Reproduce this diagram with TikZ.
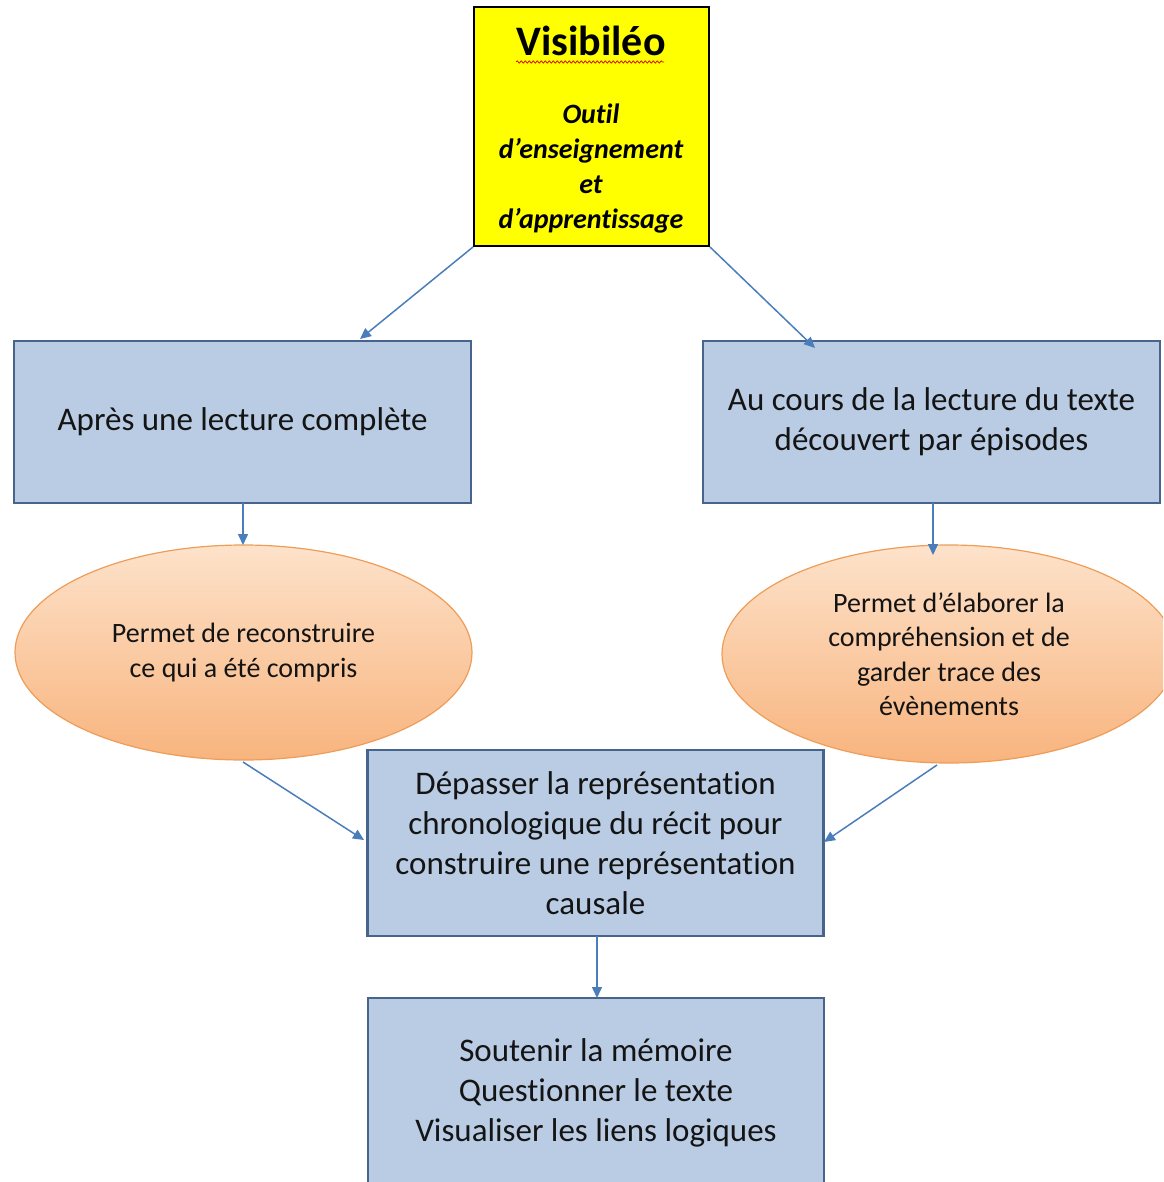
\documentclass[tikz,border=0pt]{standalone}
\usepackage{fontspec}
\setmainfont{Carlito}[Ligatures={NoCommon}]
\usetikzlibrary{arrows.meta,shapes.geometric,decorations.pathmorphing}
\definecolor{boxfill}{HTML}{B9CCE4}
\definecolor{boxline}{HTML}{46648C}
\definecolor{arrowcol}{HTML}{4A7EBB}
\definecolor{elltop}{HTML}{FDE2CA}
\definecolor{ellbot}{HTML}{F8B47E}
\definecolor{ellline}{HTML}{EE9D58}
\definecolor{txt}{HTML}{141414}
\definecolor{pureyellow}{HTML}{FFFF00}
\tikzset{
  bluebox/.style={draw=boxline, line width=2.5pt, fill=boxfill, align=center,
    text=txt, inner sep=0pt, font=\fontsize{33}{40}\selectfont},
  orangeell/.style={ellipse, draw=ellline, line width=1.2pt, top color=elltop,
    bottom color=ellbot, align=center, text=txt, inner sep=0pt,
    font=\fontsize{28}{34.5}\selectfont},
  yellowbox/.style={draw=black, line width=2pt, fill=pureyellow, inner sep=0pt},
  conn/.style={draw=arrowcol, line width=1.5pt,
    -{Triangle[length=11pt,width=10pt]}},
}
\begin{document}
\begin{tikzpicture}[x=1pt,y=-1pt]
\useasboundingbox (0,0) rectangle (1163,1182);
\clip (0,0) rectangle (1163,1182);
% top box
\node[yellowbox, minimum width=235pt, minimum height=239pt] (top) at (591.5,126.5) {};
\node[font=\fontsize{42}{44}\selectfont\bfseries, text=black, inner sep=0pt] (title) at (591,41) {Visibiléo};
\coordinate (sqa) at (516,62);
\coordinate (sqb) at (664,62);
\draw[red!85!black, line width=0.7pt, decorate, decoration={snake, amplitude=1.2pt, segment length=4pt}] (sqa) -- (sqb);
\node[font=\fontsize{28}{35}\selectfont\bfseries\itshape, text=black, align=center, inner sep=0pt] (sub) at (591,169)
  {Outil\\d’enseignement\\et\\d’apprentissage};
% second row
\node[bluebox, minimum width=457pt, minimum height=162pt] (left) at (242.5,422) {Après une lecture complète};
\node[bluebox, minimum width=457pt, minimum height=162pt] (right) at (931.5,422) {Au cours de la lecture du texte\\découvert par épisodes};
% ellipses
\node[orangeell, minimum width=457pt, minimum height=215pt] (lell) at (243.5,652.5) {Permet de reconstruire\\ce qui a été compris};
\node[orangeell, minimum width=454pt, minimum height=218pt] (rell) at (949,654) {Permet d’élaborer la\\compréhension et de\\garder trace des\\évènements};
% middle and bottom
\node[bluebox, minimum width=456pt, minimum height=186pt] (mid) at (595.5,843) {Dépasser la représentation\\chronologique du récit pour\\construire une représentation\\causale};
\node[bluebox, minimum width=456pt, minimum height=190pt] (bot) at (596,1093) {Soutenir la mémoire\\Questionner le texte\\Visualiser les liens logiques};
% connector ends
\coordinate (e1) at (360,339);
\coordinate (e2) at (815,348);
\coordinate (s3) at (243,503);
\coordinate (e3) at (243,545);
\coordinate (s4) at (933,503);
\coordinate (e4) at (933,555);
\coordinate (s5) at (243,762);
\coordinate (e5) at (364,840);
\coordinate (s6) at (937,765);
\coordinate (e6) at (824,842);
\coordinate (s7) at (597,936);
\coordinate (e7) at (597,998);
\draw[conn] (top.south west) -- (e1);
\draw[conn] (top.south east) -- (e2);
\draw[conn] (s3) -- (e3);
\draw[conn] (s4) -- (e4);
\draw[conn] (s5) -- (e5);
\draw[conn] (s6) -- (e6);
\draw[conn] (s7) -- (e7);
\end{tikzpicture}
\end{document}
